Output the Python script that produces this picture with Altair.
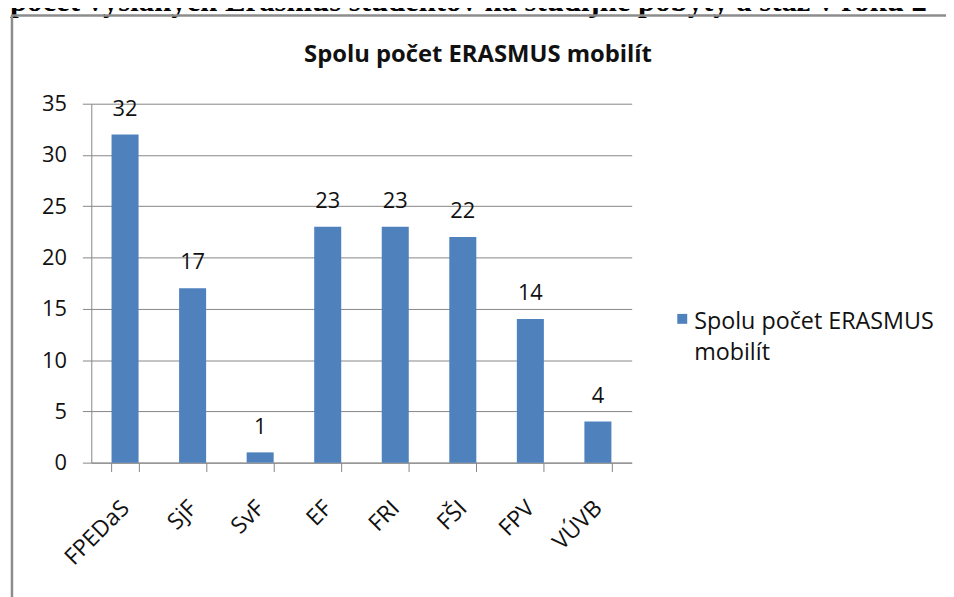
import altair as alt
import pandas as pd

categories = ["FPEDaS", "SjF", "SvF", "EF", "FRI", "FŠI", "FPV", "VÚVB"]
values = [32, 17, 1, 23, 23, 22, 14, 4]
series_name = "Spolu počet ERASMUS mobilít"
legend_lines = ["Spolu počet ERASMUS", "mobilít"]
chart_title = "Spolu počet ERASMUS mobilít"
header_text = "počet vyslaných Erasmus študentov na študijné pobyty a stáž v roku 2"
y_ticks = [0, 5, 10, 15, 20, 25, 30, 35]

df = pd.DataFrame({"fakulta": categories, "pocet": values, "serie": [series_name] * len(categories)})
one = pd.DataFrame({"serie": [series_name]})

W, H = 545, 362
FONT = "Open Sans"
GRAY = "#868686"
BLUE = "#4F81BD"

x_enc = alt.X(
    "fakulta:N",
    sort=categories,
    scale=alt.Scale(paddingInner=0.6, paddingOuter=0.3),
    axis=alt.Axis(
        title=None, labelAngle=-45, labelAlign="right", labelBaseline="middle",
        labelFontSize=23, labelFont=FONT, labelColor="#111", labelPadding=33,
        tickBand="extent", tickSize=9, tickColor=GRAY, domainColor=GRAY,
        labelBound=False,
    ),
)
y_enc = alt.Y(
    "pocet:Q",
    scale=alt.Scale(domain=[0, 35], nice=False),
    axis=alt.Axis(
        title=None, values=y_ticks, labelFontSize=22, labelFont=FONT, labelColor="#111",
        tickSize=9, tickColor=GRAY, domainColor=GRAY, gridColor=GRAY, gridWidth=1,
        labelPadding=16,
    ),
)

bars = alt.Chart(df).mark_bar(color=BLUE).encode(x=x_enc, y=y_enc)

labels = alt.Chart(df).mark_text(
    baseline="alphabetic", dy=-19, fontSize=22, font=FONT, color="#111"
).encode(x=alt.X("fakulta:N", sort=categories), y="pocet:Q", text="pocet:Q")

title_txt = alt.Chart(one).mark_text(
    text=chart_title, fontSize=24, fontWeight="bold", font=FONT, color="#111",
    baseline="alphabetic", align="center",
).encode(x=alt.value(390), y=alt.value(-42))

header = alt.Chart(one).mark_text(
    text=header_text, fontSize=31, fontWeight="bold", font="Liberation Serif", color="#000",
    baseline="alphabetic", align="left",
).encode(x=alt.value(-82), y=alt.value(-93.5))

legend_symbol = alt.Chart(one).mark_square(size=100, opacity=1, color=BLUE).encode(
    x=alt.value(596), y=alt.value(217)
)
legend_text = alt.Chart(one).mark_text(
    text=legend_lines, fontSize=23.5, font=FONT, color="#111",
    align="left", baseline="alphabetic", lineHeight=32,
).encode(x=alt.value(608), y=alt.value(227))

border_left = alt.Chart(one).mark_rule(color="#8c8c8c", strokeWidth=2.5).encode(
    x=alt.value(-80), y=alt.value(-89), y2=alt.value(H + 200)
)
border_top = alt.Chart(one).mark_rule(color="#8c8c8c", strokeWidth=2.5).encode(
    x=alt.value(-81), x2=alt.value(W + 400), y=alt.value(-89)
)

chart = alt.layer(
    bars, labels, title_txt, header, legend_symbol, legend_text, border_left, border_top
).properties(
    width=W, height=H,
    autosize=alt.AutoSizeParams(type="none"),
    padding={"left": 84, "top": 94, "right": 317, "bottom": 133},
).configure_view(stroke=None).configure_axis(grid=False).configure_axisY(grid=True)

chart.save("out.html", embed_options={"renderer": "svg", "actions": False})
